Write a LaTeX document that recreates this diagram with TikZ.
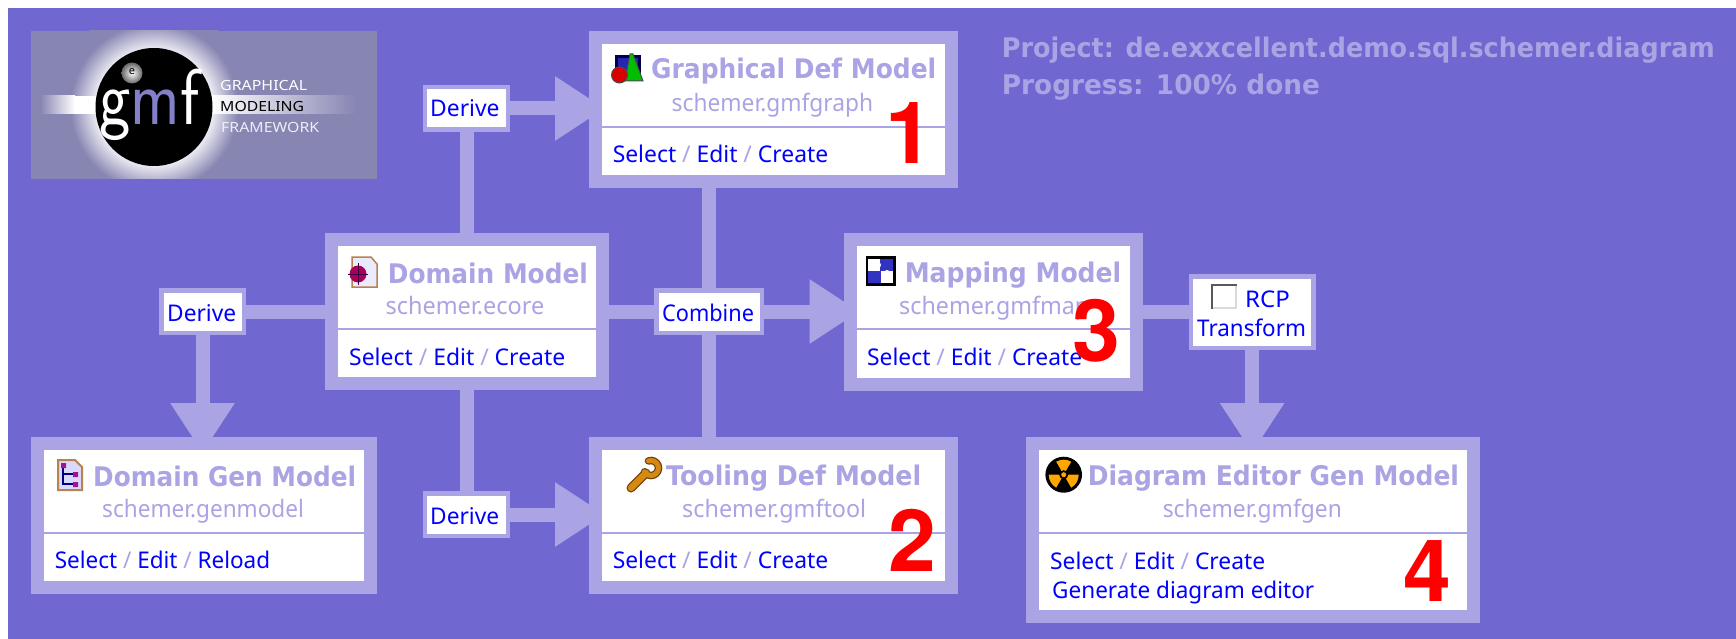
\documentclass[tikz,border=0pt]{standalone}
\usepackage{graphicx}
\usepackage{fontspec}
\setmainfont{Noto Sans}
\setsansfont{Latin Modern Sans}
\newfontfamily\digfont{TeX Gyre Heros}
\newfontfamily\ttlfont{DejaVu Sans}
\usetikzlibrary{arrows.meta,backgrounds,shapes.geometric}
\definecolor{bgc}{RGB}{112,104,208}
\definecolor{edgec}{RGB}{170,164,228}
\definecolor{linkc}{RGB}{0,0,255}
\definecolor{logoc}{RGB}{135,133,178}
\definecolor{wrenchc}{RGB}{214,136,20}
\pgfdeclareradialshading{logoglow}{\pgfpoint{0bp}{0bp}}{color(0bp)=(white); color(14.5bp)=(white!85!logoc); color(21bp)=(logoc); color(50bp)=(logoc)}
\newcommand{\fit}[2]{\resizebox{#1pt}{\height}{#2}}
\newcommand{\sep}{\textcolor{edgec}{/}}
\newcommand{\links}[3]{#1 \sep{} #2 \sep{} #3}
\newcommand{\panel}[6]{%
  \node[outerb,minimum width={(#4-#2)*1pt},minimum height={(#5-#3)*1pt}] (#1) at ({(#2+#4)/2},{(#3+#5)/2}) {};
  \node[innerb,minimum width={(#4-#2-26)*1pt},minimum height={(#5-#3-26)*1pt}] (#1i) at ({(#2+#4)/2},{(#3+#5)/2}) {};
  \draw[divider] (#1i.west |- 0,#6) -- (#1i.east |- 0,#6);
}
\newcommand{\labbox}[5]{%
  \node[outerb,minimum width={(#4-#2)*1pt},minimum height={(#5-#3)*1pt}] (#1) at ({(#2+#4)/2},{(#3+#5)/2}) {};
  \node[innerb,minimum width={(#4-#2-9)*1pt},minimum height={(#5-#3-9)*1pt}] (#1i) at ({(#2+#4)/2},{(#3+#5)/2}) {};
}
\tikzset{
  outerb/.style={rectangle,fill=edgec,draw=none,inner sep=0pt,outer sep=0pt},
  innerb/.style={rectangle,fill=white,draw=none,inner sep=0pt,outer sep=0pt},
  divider/.style={draw=edgec,line width=2pt},
  conn/.style={draw=edgec,line width=14pt},
  arrowconn/.style={conn,-{Triangle[length=50pt,width=61pt]},shorten >=-16pt},
  ttl/.style={anchor=base west,inner sep=0pt,text=edgec,font=\ttlfont\fontsize{27}{27}\selectfont\bfseries},
  subt/.style={anchor=base west,inner sep=0pt,text=edgec,font=\fontsize{24}{24}\selectfont},
  lnk/.style={anchor=base west,inner sep=0pt,text=linkc,font=\fontsize{23}{23}\selectfont},
  head/.style={anchor=base west,inner sep=0pt,text=edgec,font=\ttlfont\fontsize{27}{27}\selectfont\bfseries},
  num/.style={anchor=base,inner sep=0pt,text=red,font=\digfont\fontsize{86}{86}\selectfont\bfseries},
  logot/.style={anchor=base west,inner sep=0pt,font=\fontsize{14}{14}\selectfont},
}
\begin{document}
\begin{tikzpicture}[x=1pt,y=-1pt]
\useasboundingbox (0,0) rectangle (1736,639);
\begin{scope}[on background layer]
  \fill[white] (0,0) rectangle (1736,639);
  \fill[bgc] (8,8) rectangle (1736,639);
\end{scope}

% logo
\begin{scope}
  \clip (30.6,31) rectangle (377,179);
  \fill[logoc] (30.6,31) rectangle (377,179);
  \shade[shading=logoglow] (154,107) circle (100);
  \shade[left color=logoc,right color=white] (40,96) rectangle (75,114);
  \fill[white] (75,96) rectangle (100,114);
  \shade[left color=white,right color=logoc] (212,96) rectangle (356,114);
  \fill[black] (154,107) ellipse (58.5 and 59);
  \shade[inner color=white,outer color=black!60] (132,73) circle (10.5);
\end{scope}
\node[anchor=center,inner sep=0pt,text=black,font=\fontsize{11}{11}\selectfont] (logoe) at (132,72) {e};
\node[anchor=base west,inner sep=0pt,font=\sffamily\fontsize{79}{79}\selectfont] (logog) at (99,125) {\fit{100}{\textcolor{white}{g}\textcolor[RGB]{130,128,200}{m}\textcolor{white}{f}}};
\node[logot,text=white] (logo1) at (220,91) {\fit{87}{GRAPHICAL}};
\node[logot,text=black] (logo2) at (220,111.7) {\fit{84}{MODELING}};
\node[logot,text=white!85!logoc] (logo3) at (221,132.7) {\fit{98}{FRAMEWORK}};

% panels
\panel{g}{589}{31}{958}{188}{127}
\panel{d}{325}{233}{609}{390}{329}
\panel{m}{843.5}{233}{1143}{391}{329}
\panel{t}{589}{437}{958}{594}{532.7}
\panel{dg}{31}{437}{377}{594}{532.7}
\panel{e}{1026}{437}{1480.4}{623}{532.7}

% labels
\labbox{dT}{422.5}{85}{510}{132}
\labbox{dB}{422.5}{491}{510}{538}
\labbox{dL}{159}{288}{246}{335}
\labbox{cb}{654}{288}{764.4}{335}
\labbox{tr}{1188.6}{274}{1315.7}{350}

% connectors
\begin{scope}[on background layer]
  \draw[conn] ([xshift=1pt]d.north -| dT.south) -- ([xshift=1pt]dT.south);
  \draw[arrowconn] (dT.east) -- (dT.east -| g.west);
  \draw[conn] ([xshift=1pt]d.south -| dB.north) -- ([xshift=1pt]dB.north);
  \draw[arrowconn] (dB.east) -- (dB.east -| t.west);
  \draw[conn] (d.west |- dL.east) -- (dL.east);
  \draw[arrowconn] (dL.south) -- (dL.south |- dg.north);
  \draw[conn] (d.east |- cb.west) -- (cb.west);
  \draw[arrowconn] (cb.east) -- (cb.east -| m.west);
  \draw[conn] (cb.north |- g.south) -- (cb.north);
  \draw[conn] (cb.south |- t.north) -- (cb.south);
  \draw[conn] (m.east |- tr.west) -- (tr.west);
  \draw[arrowconn] (tr.south) -- (tr.south |- e.north);
\end{scope}

% panel text
\node[ttl] (gT) at (651,79) {\fit{285}{Graphical Def Model}};
\node[subt] (gS) at (671.5,111.7) {\fit{201.5}{schemer.gmfgraph}};
\node[lnk] (gL) at (612.6,162.7) {\fit{215.4}{\links{Select}{Edit}{Create}}};

\node[ttl] (dT2) at (387.7,283) {\fit{200}{Domain Model}};
\node[subt] (dS) at (385.4,314) {\fit{158.6}{schemer.ecore}};
\node[lnk] (dLk) at (349,365) {\fit{216}{\links{Select}{Edit}{Create}}};

\node[ttl] (mT) at (904.6,282.7) {\fit{216.4}{Mapping Model}};
\node[subt] (mS) at (899,314) {\fit{190}{schemer.gmfmap}};
\node[lnk] (mL) at (867,365.7) {\fit{215}{\links{Select}{Edit}{Create}}};

\node[ttl] (tT) at (666,485) {\fit{255}{Tooling Def Model}};
\node[subt] (tS) at (682,517.5) {\fit{184}{schemer.gmftool}};
\node[lnk] (tL) at (612.6,568.7) {\fit{215.4}{\links{Select}{Edit}{Create}}};

\node[ttl] (dgT) at (93,486) {\fit{263}{Domain Gen Model}};
\node[subt] (dgS) at (102,517) {\fit{201.7}{schemer.genmodel}};
\node[lnk] (dgL) at (54.6,568) {\fit{215.4}{\links{Select}{Edit}{Reload}}};

\node[ttl] (eT) at (1087.6,485) {\fit{371.2}{Diagram Editor Gen Model}};
\node[subt] (eS) at (1162.6,517.3) {\fit{179}{schemer.gmfgen}};
\node[lnk] (eL) at (1050,569) {\fit{215}{\links{Select}{Edit}{Create}}};
\node[lnk] (eG) at (1052,598) {\fit{262}{Generate diagram editor}};

% label text
\node[lnk] (dTt) at (430,117) {\fit{69.4}{Derive}};
\node[lnk] (dBt) at (430,524) {\fit{69}{Derive}};
\node[lnk] (dLt) at (167,321) {\fit{69}{Derive}};
\node[lnk] (cbt) at (662,321) {\fit{91.8}{Combine}};
\node[lnk] (trR) at (1245,307.3) {\fit{44.6}{RCP}};
\node[lnk] (trT) at (1197,336.7) {\fit{108.7}{Transform}};

% header text
\node[head] (proj) at (1001.7,58) {\fit{713}{Project: de.exxcellent.demo.sql.schemer.diagram}};
\node[head] (prog) at (1001.7,95) {\fit{318}{Progress: 100\% done}};

% numbers
\node[num] (n1) at (909,164) {1};
\node[num] (n2) at (912.5,571.7) {2};
\node[num] (n3) at (1096,361) {3};
\node[num] (n4) at (1427,601.7) {4};

% checkbox icon
\fill[white] (1211,284) rectangle (1237,309);
\draw[black!65,line width=2pt] (1212,309) -- (1212,285) -- (1237,285);
\draw[black!15,line width=1.5pt] (1213,308) -- (1236,308) -- (1236,286);

% graphical icon
\fill[black!70!blue] (615,55) rectangle (641,76);
\fill[blue!65!black!85!white] (618,58) rectangle (638,76);
\fill[green!75!black,draw=black!70,line width=1pt] (625,81) -- (630,54) -- (633,54) -- (643,81) -- cycle;
\fill[red!85!black,draw=black!70,line width=1pt] (619.5,75) circle (8);

% domain icon
\fill[white!92!blue,draw=black!40!orange!70!white,line width=1.5pt] (352,257) -- (371,257) -- (377,264) -- (377,287) -- (352,287) -- cycle;
\fill[violet!70!red] (358,274) circle (8.5);
\draw[violet!50!black,line width=1pt] (358,263) -- (358,285) (348,274) -- (368,274);

% mapping icon
\fill[black] (865.5,256) rectangle (896,286);
\fill[blue!70!black!80!white] (868,259) rectangle (893,283);
\fill[white] (868,259) rectangle (880,271);
\fill[white] (881,271) rectangle (893,283);
\fill[white] (878,265) circle (3) (887,273) circle (3);

% tooling icon (wrench)
\draw[black!50!wrenchc,line width=9pt,line cap=round] (631,488) -- (646,473);
\draw[black!50!wrenchc,line width=7.5pt,line cap=round] (651,468) ++(250:7.5) arc (250:510:7.5);
\draw[wrenchc,line width=6.5pt,line cap=round] (631,488) -- (646,473);
\draw[wrenchc,line width=5pt,line cap=round] (651,468) ++(250:7.5) arc (250:510:7.5);

% domain gen icon
\fill[white!85!blue,draw=black!40!orange!70!white,line width=2pt] (58,460) -- (75,460) -- (82,467) -- (82,490) -- (58,490) -- cycle;
\draw[blue!50!black,line width=1.3pt] (63,465) -- (63,484) -- (75,484) (63,474) -- (75,474);
\fill[magenta!60!blue] (61,463) rectangle (66,468) (73,472) rectangle (78,477) (73,482) rectangle (78,487);

% radiation icon
\fill[black] (1063.7,474.7) ellipse (18.3 and 18);
\fill[orange!70!yellow] (1063.7,474.7) -- ++(240:15) arc (240:300:15) -- cycle;
\fill[orange!70!yellow] (1063.7,474.7) -- ++(0:15) arc (0:60:15) -- cycle;
\fill[orange!70!yellow] (1063.7,474.7) -- ++(120:15) arc (120:180:15) -- cycle;
\fill[black] (1063.7,474.7) circle (4.5);
\fill[orange!70!yellow] (1063.7,474.7) circle (2.5);
\end{tikzpicture}
\end{document}
